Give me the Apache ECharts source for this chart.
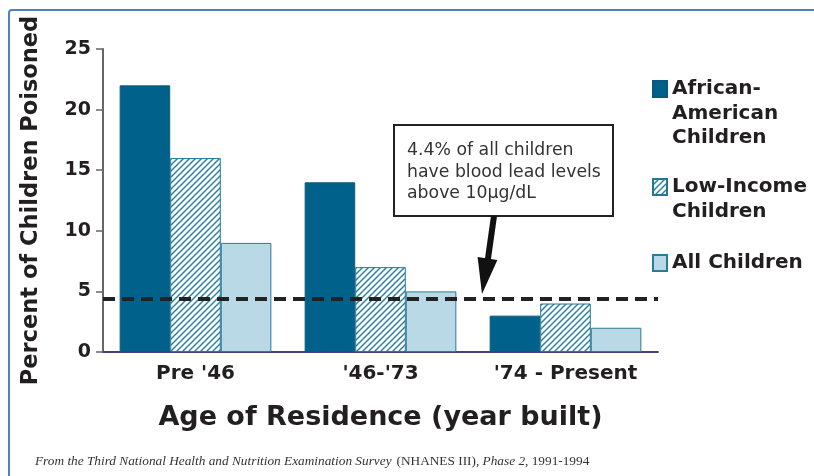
<!DOCTYPE html>
<html>
<head>
<meta charset="utf-8">
<script src="https://cdn.jsdelivr.net/npm/echarts@6/dist/echarts.min.js"></script>
<style>
  html, body { margin: 0; padding: 0; background: #fff; }
  #main { width: 814px; height: 476px; }
</style>
</head>
<body>
<div id="main"></div>
<script>
var categories = ["Pre '46", "'46-'73", "'74 - Present"];
var africanAmerican = [22, 14, 3];
var lowIncome = [16, 7, 4];
var allChildren = [9, 5, 2];
var averageAll = 4.4;
var seriesNames = ['African-\nAmerican\nChildren', 'Low-Income\nChildren', 'All Children'];

// diagonal hatch for the low-income bars
function hatch() {
  var c = document.createElement('canvas');
  c.width = 6; c.height = 6;
  var g = c.getContext('2d');
  g.fillStyle = '#fff';
  g.fillRect(0, 0, 6, 6);
  g.strokeStyle = '#2f82a2';
  g.lineWidth = 1.5;
  g.beginPath();
  g.moveTo(0, 6); g.lineTo(6, 0);
  g.moveTo(-3, 3); g.lineTo(3, -3);
  g.moveTo(3, 9); g.lineTo(9, 3);
  g.stroke();
  return c;
}

var font = 'DejaVu Sans';
var L = 24.5;
// blank lines in front keep the first text line level with the icon
function legendAt(name, iconMid) {
  var lines = name.split('\n').length;
  return {
    orient: 'vertical', left: 652, top: iconMid - (lines - 0.5) * L, padding: 0,
    itemWidth: 14, itemHeight: 16, icon: 'rect',
    data: [name],
    formatter: function (n) { return new Array(lines).join('\n') + n; },
    textStyle: { fontFamily: font, fontWeight: 'bold', fontSize: 20, lineHeight: L, color: '#231f20' }
  };
}

var chart = echarts.init(document.getElementById('main'));
chart.setOption({
  animation: false,
  title: {
    left: 35, top: 453, padding: 0,
    text: '{i|From the Third National Health and Nutrition Examination Survey} {r|(NHANES III)}{i|, Phase 2}{r|, 1991-1994}',
    textStyle: {
      fontWeight: 'normal',
      rich: {
        i: { fontFamily: 'Liberation Serif', fontStyle: 'italic', fontWeight: 'normal', fontSize: 13.3, color: '#333' },
        r: { fontFamily: 'Liberation Serif', fontWeight: 'normal', fontSize: 13.3, color: '#333' }
      }
    }
  },
  legend: [
    legendAt(seriesNames[0], 89),
    legendAt(seriesNames[1], 187),
    legendAt(seriesNames[2], 263)
  ],
  grid: { left: 103, right: 156, top: 49, bottom: 124, containLabel: false },
  xAxis: {
    type: 'category',
    data: categories,
    name: 'Age of Residence (year built)',
    nameLocation: 'middle',
    nameGap: 52,
    nameTextStyle: { fontFamily: font, fontWeight: 'bold', fontSize: 27, color: '#231f20' },
    axisLine: { lineStyle: { color: '#4b3f7a', width: 2 } },
    axisTick: { show: false },
    axisLabel: { interval: 0, margin: 12, fontFamily: font, fontWeight: 'bold', fontSize: 20, color: '#231f20' }
  },
  yAxis: {
    type: 'value',
    min: 0, max: 25, interval: 5,
    name: 'Percent of Children Poisoned',
    nameLocation: 'middle',
    nameRotate: 90,
    nameGap: 60,
    nameTextStyle: { fontFamily: font, fontWeight: 'bold', fontSize: 22.5, color: '#231f20' },
    axisLine: { show: true, lineStyle: { color: '#666', width: 2 } },
    axisTick: { show: true, length: 7, lineStyle: { color: '#666', width: 1.5 } },
    axisLabel: { margin: 12, fontFamily: font, fontWeight: 'bold', fontSize: 19, color: '#231f20' },
    splitLine: { show: false }
  },
  series: [
    {
      name: seriesNames[0], type: 'bar', data: africanAmerican,
      barGap: '0%', barCategoryGap: '18%',
      itemStyle: { color: '#00628a', borderColor: '#0b5a7c', borderWidth: 1 },
      markLine: {
        silent: true, symbol: 'none', label: { show: false },
        lineStyle: { type: [12, 7], width: 4, color: '#222' },
        data: [{ yAxis: averageAll }]
      },
      z: 2
    },
    {
      name: seriesNames[1], type: 'bar', data: lowIncome,
      itemStyle: { color: { image: hatch(), repeat: 'repeat' }, borderColor: '#1f7896', borderWidth: 1 }
    },
    {
      name: seriesNames[2], type: 'bar', data: allChildren,
      itemStyle: { color: '#b9d9e7', borderColor: '#2c7b98', borderWidth: 1 }
    }
  ],
  graphic: [
    { type: 'rect', shape: { x: 9, y: 10, width: 900, height: 600, r: 3 },
      style: { fill: 'none', stroke: '#4f81bd', lineWidth: 2 }, z: 100 },
    { type: 'rect', shape: { x: 394, y: 125, width: 219, height: 91 },
      style: { fill: '#fff', stroke: '#222', lineWidth: 2 }, z: 100 },
    { type: 'text', x: 407, y: 140, z: 101,
      style: { text: '4.4% of all children\nhave blood lead levels\nabove 10\u03bcg/dL',
        fontFamily: font, fontSize: 17.3, lineHeight: 21.5, fill: '#333' } },
    { type: 'line', shape: { x1: 494, y1: 216, x2: 487.5, y2: 262 },
      style: { stroke: '#111', lineWidth: 6 }, z: 100 },
    { type: 'polygon', shape: { points: [[497.4, 259.9], [477.6, 256.9], [482, 294]] },
      style: { fill: '#111' }, z: 100 }
  ]
});
</script>
</body>
</html>
